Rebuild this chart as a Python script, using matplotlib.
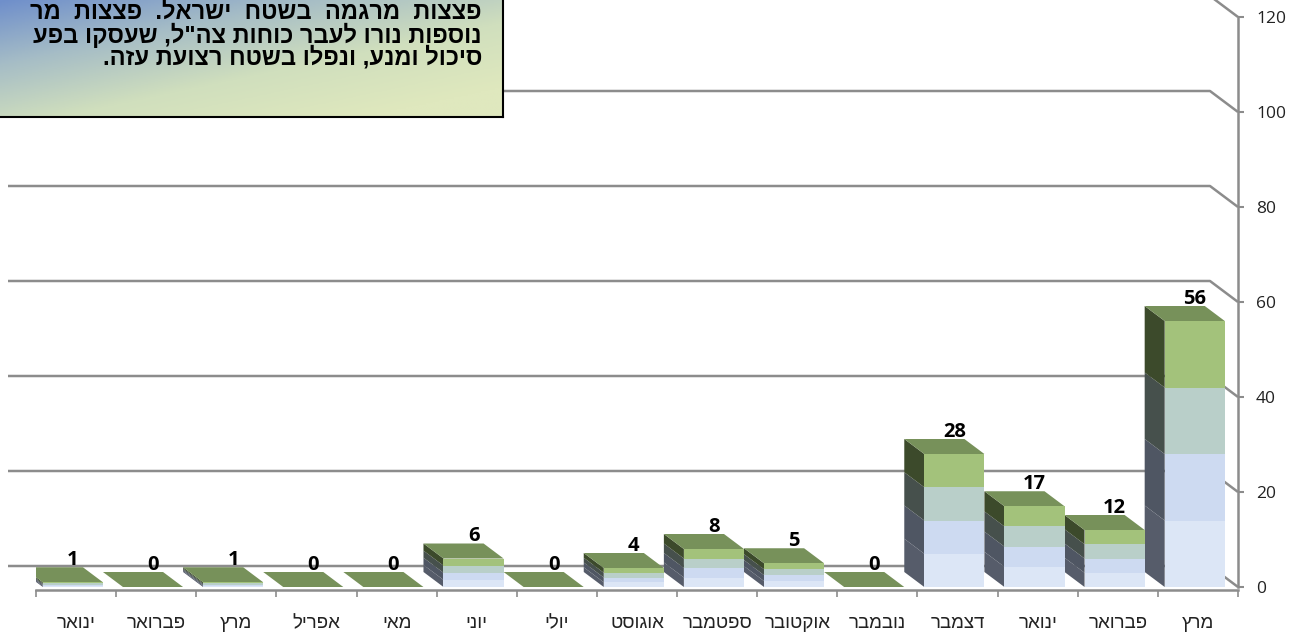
import numpy as np
import matplotlib.pyplot as plt
from matplotlib.patches import Polygon
from matplotlib.colors import LinearSegmentedColormap

# === Données ===
months = ["ינואר", "פברואר", "מרץ", "אפריל", "מאי", "יוני", "יולי", "אוגוסט",
          "ספטמבר", "אוקטובר", "נובמבר", "דצמבר", "ינואר", "פברואר", "מרץ"]
values = [1, 0, 1, 0, 0, 6, 0, 4, 8, 5, 0, 28, 17, 12, 56]
y_ticks = [0, 20, 40, 60, 80, 100, 120]

note_lines = [
    "פצצות מרגמה בשטח ישראל. פצצות מר",
    'נוספות נורו לעבר כוחות צה"ל, שעסקו בפע',
    "סיכול ומנע, ונפלו בשטח רצועת עזה.",
]


def rtl(s):
    # matplotlib n'a pas de bidi : on inverse l'ordre des caractères
    return s[::-1]


W, H = 1301, 636
fig = plt.figure(figsize=(W / 100, H / 100), dpi=100)
fig.patch.set_facecolor("white")

# axes placés au pixel près : x de 36 à 1238, 0 -> y=587, 120 -> y=17
ax = fig.add_axes([36 / W, (H - 587) / H, 1202 / W, 570 / H])
ax.set_xlim(-0.5, len(values) - 0.5)
ax.set_ylim(0, 120)
ax.patch.set_alpha(0)

px_x = 1202 / len(values)   # pixels par catégorie
px_y = 570 / 120            # pixels par unité

# === Mur du fond (grille en perspective) ===
wall_dx = 28 / px_x
wall_dy = 21 / px_y
grid_col = "#8c8c8c"
x_left = -0.5 - 28 / px_x
x_right = len(values) - 0.5
for v in y_ticks:
    ax.plot([x_left, x_right - wall_dx, x_right], [v + wall_dy, v + wall_dy, v],
            color=grid_col, lw=1.8, clip_on=False, zorder=1, solid_capstyle="butt")

# === Barres 3D (4 bandes de dégradé) ===
front_cols = ["#dce6f6", "#cddaf1", "#b9cfc9", "#a3c27b"]
side_cols = ["#565c6a", "#4f5663", "#46504c", "#3c4a2b"]
top_col = "#77915a"
bar_w = 0.75
shift = -0.04
bar_dx = 20 / px_x
bar_dy = 15 / px_y

xs = np.arange(len(values))
vals = np.array(values, dtype=float)
q = vals / 4
for k in range(4):
    ax.bar(xs + shift, q, bottom=k * q, width=bar_w, color=front_cols[k],
           linewidth=0, zorder=4)

for x, v in zip(xs, vals):
    xl = x + shift - bar_w / 2
    xr = x + shift + bar_w / 2
    for k in range(4):
        b, t = k * v / 4, (k + 1) * v / 4
        if t > b:
            ax.add_patch(Polygon([(xl, b), (xl, t), (xl - bar_dx, t + bar_dy),
                                  (xl - bar_dx, b + bar_dy)],
                                 closed=True, facecolor=side_cols[k], lw=0, zorder=3))
    ax.add_patch(Polygon([(xl, v), (xr, v), (xr - bar_dx, v + bar_dy),
                          (xl - bar_dx, v + bar_dy)],
                         closed=True, facecolor=top_col, lw=0, zorder=3))
    ax.annotate(f"{int(v)}", (x + shift, v), xytext=(0, 16), textcoords="offset points",
                ha="center", va="center", fontsize=14.5, fontweight="bold",
                family=["Open Sans", "DejaVu Sans"], color="black", zorder=6)

# === Axes ===
for s in ["top", "left"]:
    ax.spines[s].set_visible(False)
ax.spines["right"].set_color(grid_col)
ax.spines["right"].set_linewidth(1.8)
ax.spines["bottom"].set_color(grid_col)
ax.spines["bottom"].set_linewidth(1.8)
ax.spines["bottom"].set_position(("outward", 2))

ax.yaxis.tick_right()
ax.set_yticks(y_ticks)
ax.set_yticklabels([str(t) for t in y_ticks], family=["Open Sans", "DejaVu Sans"],
                   fontsize=12.5, color="#222222")
ax.tick_params(axis="y", length=4, width=1.5, color=grid_col, pad=9)

ax.set_xticks(xs)
ax.set_xticklabels([rtl(m) for m in months], family=["Liberation Sans", "DejaVu Sans"],
                   fontsize=13.5, color="#222222")
ax.set_xticks(np.arange(-0.5, len(values), 1), minor=True)
ax.tick_params(axis="x", which="major", length=0, pad=18)
ax.tick_params(axis="x", which="minor", length=5, width=1.2, color=grid_col)

# === Encadré de texte (dégradé) ===
box_r, box_b = 503, 117
bax = fig.add_axes([0, (H - box_b) / H, box_r / W, box_b / H])
gx, gy = np.meshgrid(np.linspace(0, 1, 300), np.linspace(0, 1, 80))
grad = np.clip(0.55 * gx + 0.6 * gy, 0, 1)
cmap = LinearSegmentedColormap.from_list("box", ["#6f8fcb", "#a6bdc6", "#d0dfbd", "#dfe8be"])
bax.imshow(grad, cmap=cmap, aspect="auto", extent=[0, 1, 1, 0])
bax.set_xlim(0, 1)
bax.set_ylim(1, 0)
bax.set_xticks([])
bax.set_yticks([])
for s in ["top", "left"]:
    bax.spines[s].set_visible(False)
for s in ["right", "bottom"]:
    bax.spines[s].set_color("black")
    bax.spines[s].set_linewidth(1.5)

line_y = [12, 35, 58]
gaps = ["  ", " ", " "]
for txt, y, g in zip(note_lines, line_y, gaps):
    fig.text(482 / W, 1 - y / H, rtl(txt).replace(" ", g), ha="right", va="center",
             fontsize=17, fontweight="bold", family=["Liberation Sans", "DejaVu Sans"],
             color="black")

fig.savefig("out.png", dpi=100)
